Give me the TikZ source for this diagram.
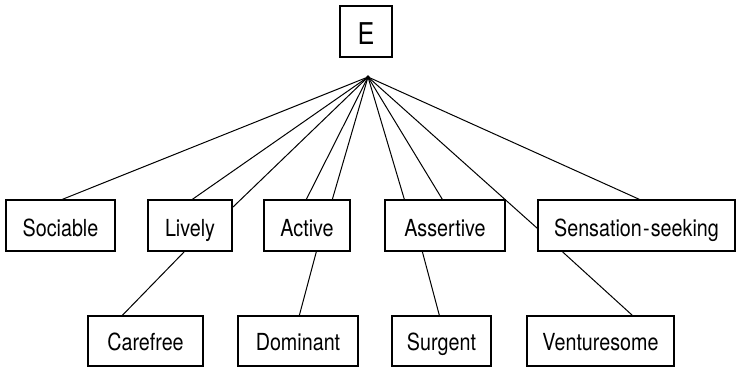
\documentclass[tikz,border=0pt]{standalone}
\usepackage{fontspec}
\setmainfont{TeX Gyre Heros}[FakeStretch=0.84]
\begin{document}
\begin{tikzpicture}[x=1pt,y=-1pt,
  trait/.style={draw,line width=1.3pt,rectangle,inner sep=0pt,minimum height=51pt,
    text height=21pt,text depth=0pt,font=\fontsize{23.5}{26}\selectfont},
  lower/.style={trait,minimum height=50pt,text height=18pt},
  link/.style={line width=1pt}]
\useasboundingbox (0,0) rectangle (737,368);
% top factor
\node[trait,minimum width=52pt,text height=25pt,font=\fontsize{30}{32}\selectfont] (E) at (366,31.5) {E};
\coordinate (apex) at (368,77);
% first level
\node[trait,minimum width=109pt] (soc) at (60.5,225.5) {Sociable};
\node[trait,minimum width=84pt]  (liv) at (190,225.5) {Lively};
\node[trait,minimum width=86pt]  (act) at (307,225.5) {Active};
\node[trait,minimum width=120pt] (ass) at (445,225.5) {Assertive};
\node[trait,minimum width=197pt] (sen) at (636.5,225.5) {Sensation\kern1.2pt-\kern1.2pt seeking};
% second level
\node[lower,minimum width=115pt] (car) at (145.5,341) {Carefree};
\node[lower,minimum width=120pt] (dom) at (298,341) {Dominant};
\node[lower,minimum width=99pt]  (sur) at (441.5,341) {Surgent};
\node[lower,minimum width=147pt] (ven) at (600.5,341) {Venturesome};
% fan from apex
\draw[link] (apex) -- ([xshift=57pt]soc.north west);
\draw[link] (apex) -- ([xshift=45pt]liv.north west);
\draw[link] (apex) -- ([yshift=-8pt]liv.north east);
\draw[link] (apex) -- ([xshift=43pt]act.north west);
\draw[link] (apex) -- ([xshift=69pt]act.north west);
\draw[link] (apex) -- ([xshift=20pt]ass.north west);
\draw[link] (apex) -- ([xshift=58pt]ass.north west);
\draw[link] (apex) -- ([yshift=-29pt]sen.north west);
\draw[link] (apex) -- ([xshift=102pt]sen.north west);
\fill (apex) circle (1.8pt);
% second level links
\draw[link] ([xshift=37pt]liv.south west) -- ([xshift=35pt]car.north west);
\draw[link] ([xshift=53pt]act.south west) -- ([xshift=62pt]dom.north west);
\draw[link] ([xshift=38pt]ass.south west) -- ([xshift=48pt]sur.north west);
\draw[link] ([xshift=25pt]sen.south west) -- ([xshift=106pt]ven.north west);
\end{tikzpicture}
\end{document}
